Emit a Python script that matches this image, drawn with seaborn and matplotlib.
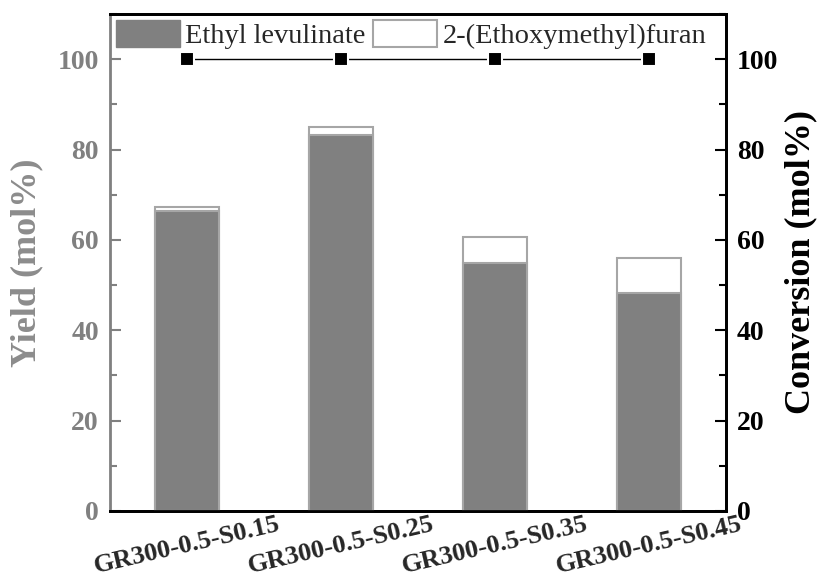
import numpy as np
import pandas as pd
import matplotlib
matplotlib.use("Agg")
import matplotlib.pyplot as plt
from matplotlib.ticker import MultipleLocator
from matplotlib.patches import Patch
import seaborn as sns

categories = ["GR300-0.5-S0.15", "GR300-0.5-S0.25", "GR300-0.5-S0.35", "GR300-0.5-S0.45"]
ethyl_levulinate = [66.4, 83.2, 55.0, 48.3]
ethoxymethyl_furan = [0.9, 1.8, 5.7, 7.8]
conversion = [100, 100, 100, 100]

sns.set_style("ticks")
plt.rcParams["font.family"] = ["Liberation Serif", "DejaVu Serif"]

df = pd.DataFrame({
    "cat": categories,
    "el": ethyl_levulinate,
    "total": np.array(ethyl_levulinate) + np.array(ethoxymethyl_furan),
    "conv": conversion,
})

GRAY = "#808080"
EDGE = "#a6a6a6"

fig = plt.figure(figsize=(8.26, 5.79), dpi=100)
ax = fig.add_axes([110 / 826, 1 - 511 / 579, 616 / 826, 497 / 579])

sns.barplot(data=df, x="cat", y="total", color="white", edgecolor=EDGE,
            linewidth=1.5, width=0.41, saturation=1, ax=ax, zorder=2)
sns.barplot(data=df, x="cat", y="el", color=GRAY, edgecolor=EDGE,
            linewidth=1.5, width=0.41, saturation=1, ax=ax, zorder=3)

ax.set_xlim(-0.5, 3.5)
ax.set_ylim(0, 110)
ax.yaxis.set_minor_locator(MultipleLocator(10))
ax.set_yticks(np.arange(0, 101, 20))
ax.tick_params(axis="y", which="major", direction="in", length=8, width=1.5,
               color=GRAY, labelcolor=GRAY, labelsize=20, pad=8)
ax.tick_params(axis="y", which="minor", direction="in", length=5, width=1.5, color=GRAY)
ax.tick_params(axis="x", length=0, labelsize=19, pad=1)
for lbl in ax.get_yticklabels():
    lbl.set_fontweight("bold")
ax.set_xticks(range(len(categories)))
ax.set_xticklabels(categories, rotation=13, fontweight="bold", ha="center")
ax.set_xlabel("")
ax.set_ylabel("Yield (mol%)", fontsize=26, fontweight="bold", color="#8c8c8c", labelpad=10)

for s in ["top", "bottom", "right"]:
    ax.spines[s].set_color("black")
    ax.spines[s].set_linewidth(2)
ax.spines["left"].set_color(GRAY)
ax.spines["left"].set_linewidth(2)

ax2 = ax.twinx()
x_pos = np.arange(len(categories))
sns.lineplot(x=x_pos, y=conversion, ax=ax2, color="black", linewidth=1,
             marker="s", markersize=10, markeredgecolor="white", markeredgewidth=1.5,
             zorder=5)
ax2.set_ylim(0, 110)
ax2.set_xlim(-0.5, 3.5)
ax2.yaxis.set_minor_locator(MultipleLocator(10))
ax2.set_yticks(np.arange(0, 101, 20))
ax2.tick_params(axis="y", which="major", direction="in", length=8, width=1.5,
                color="black", labelcolor="black", labelsize=20, pad=8)
ax2.tick_params(axis="y", which="minor", direction="in", length=5, width=1.5, color="black")
for lbl in ax2.get_yticklabels():
    lbl.set_fontweight("bold")
ax2.set_ylabel("Conversion (mol%)", fontsize=26, fontweight="bold", color="black", labelpad=4)
for s in ["top", "bottom", "right"]:
    ax2.spines[s].set_color("black")
    ax2.spines[s].set_linewidth(2)
ax2.spines["left"].set_visible(False)

handles = [Patch(facecolor=GRAY, edgecolor=GRAY, label="Ethyl levulinate"),
           Patch(facecolor="white", edgecolor=EDGE, linewidth=1.5, label="2-(Ethoxymethyl)furan")]
ax2.legend(handles=handles, loc="upper left", ncol=2, frameon=False,
           fontsize=20.5, handlelength=2.25, handleheight=1.1, handletextpad=0.2,
           columnspacing=0.25, borderaxespad=0.1, borderpad=0.1)

fig.savefig("out.png", dpi=100)
